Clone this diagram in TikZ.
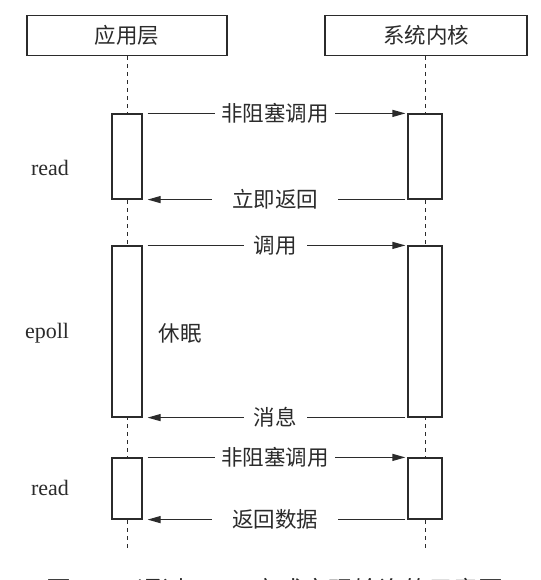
\documentclass[tikz,border=0pt]{standalone}
\usepackage{fontspec}
\setmainfont{Liberation Serif}
\newfontfamily\cjk{Noto Sans CJK SC}
\usetikzlibrary{arrows.meta}
\definecolor{ink}{HTML}{2B2B2B}
\begin{document}
\begin{tikzpicture}[x=1pt,y=-1pt,
  hdr/.style={draw=ink, line width=1.2pt, fill=white, minimum width=200pt, minimum height=40pt, inner sep=0pt, font=\cjk\fontsize{21.5}{21.5}\selectfont, text=ink},
  actL/.style={draw=ink, line width=1.2pt, fill=white, minimum width=30pt, inner sep=0pt},
  actR/.style={draw=ink, line width=1.2pt, fill=white, minimum width=34pt, inner sep=0pt},
  life/.style={draw=ink, line width=1pt, dash pattern=on 4pt off 4pt},
  msg/.style={draw=ink, line width=1.2pt, -{Triangle[length=13pt,width=7pt]}},
  lbl/.style={fill=white, inner ysep=2pt, font=\cjk\fontsize{21.5}{21.5}\selectfont, text=ink},
  side/.style={font=\fontsize{22}{22}\selectfont, text=ink},
  note/.style={font=\cjk\fontsize{21.5}{21.5}\selectfont, text=ink}]
\path[use as bounding box] (0,0) rectangle (540,580);
\clip (0,0) rectangle (540,580);
% headers
\node[hdr] (app) at (127,35.5) {应用层};
\node[hdr, minimum width=202pt] (ker) at (426,35.5) {系统内核};
% lifelines
\coordinate (append) at (127,548);
\coordinate (kerend) at (425,548);
\draw[life] (app.south) -- (append);
\draw[life] (425,56) -- (kerend);
% activation boxes
\node[actL, minimum height=85pt] (a1) at (127,156.5) {};
\node[actR, minimum height=85pt] (b1) at (425,156.5) {};
\node[actL, minimum height=171pt] (a2) at (127,331.5) {};
\node[actR, minimum height=171pt] (b2) at (425,331.5) {};
\node[actL, minimum height=61pt] (a3) at (127,488.5) {};
\node[actR, minimum height=61pt] (b3) at (425,488.5) {};
% messages
\draw[msg, shorten <=5pt, shorten >=2pt] (a1.north east) -- node[lbl, inner xsep=6pt] {非阻塞调用} (b1.north west);
\draw[msg, shorten <=2pt, shorten >=5pt] (b1.south west) -- node[lbl, inner xsep=20pt] {立即返回} (a1.south east);
\draw[msg, shorten <=5pt, shorten >=2pt] (a2.north east) -- node[lbl, inner xsep=10pt] {调用} (b2.north west);
\draw[msg, shorten <=2pt, shorten >=5pt] (b2.south west) -- node[lbl, inner xsep=10pt] {消息} (a2.south east);
\draw[msg, shorten <=5pt, shorten >=2pt] (a3.north east) -- node[lbl, inner xsep=6pt] {非阻塞调用} (b3.north west);
\draw[msg, shorten <=2pt, shorten >=5pt] (b3.south west) -- node[lbl, inner xsep=20pt] {返回数据} (a3.south east);
% side labels
\node[side] (r1) at (50,168) {read};
\node[side] (ep) at (47,333) {epoll};
\node[side] (r2) at (50,488) {read};
\node[note] (sl) at (180,333) {休眠};
% caption (cut off at bottom edge, as in the reference)
\node[anchor=north, inner sep=0pt, text=ink, font=\cjk\fontsize{25}{25}\selectfont] (cap) at (275,578) {图2-7\hspace{30pt}通过\hspace{16pt}{\rmfamily epoll}方式实现轮询的示意图};
\end{tikzpicture}
\end{document}
